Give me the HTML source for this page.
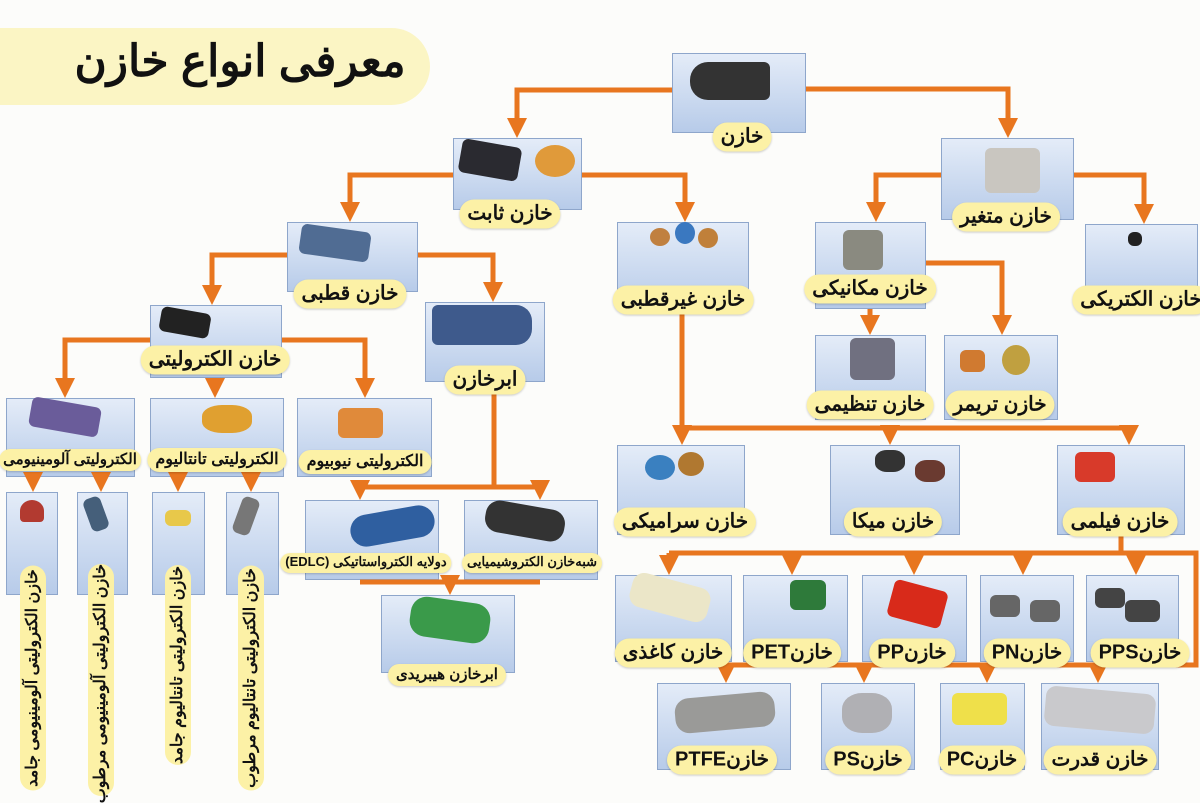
<!DOCTYPE html>
<html><head><meta charset="utf-8">
<style>
body{margin:0;width:1200px;height:800px;background:#fcfcfa;position:relative;overflow:hidden;font-family:"Liberation Sans","Noto Sans CJK SC",sans-serif}
.b{position:absolute;background:linear-gradient(#e4ecf8,#b7cbe9);border:1px solid #8ea6cb;box-sizing:border-box}
.l{position:absolute;transform:translate(-50%,-50%);background:#fcf1a6;border-radius:16px;padding:1px 8px 3px;font-weight:bold;font-size:20px;white-space:nowrap;direction:rtl;color:#111;box-shadow:0 1px 2px rgba(0,0,0,.2)}
.v{position:absolute;background:#fcf1a6;border-radius:14px;height:26px;line-height:26px;font-weight:bold;font-size:16px;text-align:center;white-space:nowrap;direction:rtl;color:#111;transform:translate(-50%,-50%) rotate(-90deg)}
.c{position:absolute;border-radius:6px}
svg{position:absolute;left:0;top:0}
</style></head><body>
<div style="position:absolute;left:0;top:28px;width:430px;height:77px;background:#fbf5c4;border-radius:0 40px 40px 0"></div>
<div style="position:absolute;left:60px;top:36px;width:360px;text-align:center;font-size:44px;font-weight:bold;direction:rtl;color:#111">معرفی انواع خازن</div>

<div class="b" style="left:672px;top:53px;width:134px;height:80px"></div>
<div class="b" style="left:453px;top:138px;width:129px;height:72px"></div>
<div class="b" style="left:941px;top:138px;width:133px;height:82px"></div>
<div class="b" style="left:287px;top:222px;width:131px;height:70px"></div>
<div class="b" style="left:617px;top:222px;width:132px;height:88px"></div>
<div class="b" style="left:815px;top:222px;width:111px;height:87px"></div>
<div class="b" style="left:1085px;top:224px;width:113px;height:79px"></div>
<div class="b" style="left:150px;top:305px;width:132px;height:73px"></div>
<div class="b" style="left:425px;top:302px;width:120px;height:80px"></div>
<div class="b" style="left:815px;top:335px;width:111px;height:85px"></div>
<div class="b" style="left:944px;top:335px;width:114px;height:85px"></div>
<div class="b" style="left:6px;top:398px;width:129px;height:79px"></div>
<div class="b" style="left:150px;top:398px;width:134px;height:79px"></div>
<div class="b" style="left:297px;top:398px;width:135px;height:79px"></div>
<div class="b" style="left:6px;top:492px;width:52px;height:103px"></div>
<div class="b" style="left:77px;top:492px;width:51px;height:103px"></div>
<div class="b" style="left:152px;top:492px;width:53px;height:103px"></div>
<div class="b" style="left:226px;top:492px;width:53px;height:103px"></div>
<div class="b" style="left:305px;top:500px;width:134px;height:80px"></div>
<div class="b" style="left:464px;top:500px;width:134px;height:80px"></div>
<div class="b" style="left:381px;top:595px;width:134px;height:78px"></div>
<div class="b" style="left:617px;top:445px;width:128px;height:90px"></div>
<div class="b" style="left:830px;top:445px;width:130px;height:90px"></div>
<div class="b" style="left:1057px;top:445px;width:128px;height:90px"></div>
<div class="b" style="left:615px;top:575px;width:117px;height:87px"></div>
<div class="b" style="left:743px;top:575px;width:105px;height:87px"></div>
<div class="b" style="left:862px;top:575px;width:105px;height:87px"></div>
<div class="b" style="left:980px;top:575px;width:94px;height:87px"></div>
<div class="b" style="left:1086px;top:575px;width:93px;height:87px"></div>
<div class="b" style="left:657px;top:683px;width:134px;height:87px"></div>
<div class="b" style="left:821px;top:683px;width:94px;height:87px"></div>
<div class="b" style="left:940px;top:683px;width:85px;height:87px"></div>
<div class="b" style="left:1041px;top:683px;width:118px;height:87px"></div>

<div class="c" style="left:690px;top:62px;width:80px;height:38px;background:#333;border-radius:18px 6px 6px 18px"></div>
<div class="c" style="left:460px;top:143px;width:60px;height:34px;background:#2a2a30;transform:rotate(10deg)"></div>
<div class="c" style="left:535px;top:145px;width:40px;height:32px;background:#e09a3a;border-radius:50%"></div>
<div class="c" style="left:985px;top:148px;width:55px;height:45px;background:#c9c6c0"></div>
<div class="c" style="left:300px;top:228px;width:70px;height:30px;background:#506c93;transform:rotate(8deg)"></div>
<div class="c" style="left:650px;top:228px;width:20px;height:18px;background:#c08040;border-radius:50%"></div>
<div class="c" style="left:675px;top:222px;width:20px;height:22px;background:#3a78c0;border-radius:50%"></div>
<div class="c" style="left:698px;top:228px;width:20px;height:20px;background:#c0803a;border-radius:50%"></div>
<div class="c" style="left:843px;top:230px;width:40px;height:40px;background:#8a8a80"></div>
<div class="c" style="left:1128px;top:232px;width:14px;height:14px;background:#222"></div>
<div class="c" style="left:160px;top:310px;width:50px;height:25px;background:#222;transform:rotate(10deg)"></div>
<div class="c" style="left:432px;top:305px;width:100px;height:40px;background:#3e5a8c;border-radius:6px 16px 16px 6px"></div>
<div class="c" style="left:850px;top:338px;width:45px;height:42px;background:#707080"></div>
<div class="c" style="left:960px;top:350px;width:25px;height:22px;background:#d07a30"></div>
<div class="c" style="left:1002px;top:345px;width:28px;height:30px;background:#c0a040;border-radius:50%"></div>
<div class="c" style="left:30px;top:402px;width:70px;height:30px;background:#6a5c9a;transform:rotate(10deg)"></div>
<div class="c" style="left:202px;top:405px;width:50px;height:28px;background:#e0a030;border-radius:40%"></div>
<div class="c" style="left:338px;top:408px;width:45px;height:30px;background:#e08a3a"></div>
<div class="c" style="left:20px;top:500px;width:24px;height:22px;background:#b23a30;border-radius:50% 50% 4px 4px"></div>
<div class="c" style="left:87px;top:497px;width:18px;height:34px;background:#455f7a;transform:rotate(-20deg)"></div>
<div class="c" style="left:165px;top:510px;width:26px;height:16px;background:#e8c84a"></div>
<div class="c" style="left:237px;top:497px;width:18px;height:38px;background:#777;transform:rotate(20deg)"></div>
<div class="c" style="left:350px;top:510px;width:85px;height:32px;background:#2f5fa0;border-radius:16px;transform:rotate(-10deg)"></div>
<div class="c" style="left:485px;top:505px;width:80px;height:32px;background:#333;border-radius:14px;transform:rotate(10deg)"></div>
<div class="c" style="left:410px;top:600px;width:80px;height:40px;background:#3a9a4a;border-radius:16px;transform:rotate(8deg)"></div>
<div class="c" style="left:645px;top:455px;width:30px;height:25px;background:#3a80c0;border-radius:50%"></div>
<div class="c" style="left:678px;top:452px;width:26px;height:24px;background:#b07830;border-radius:50%"></div>
<div class="c" style="left:875px;top:450px;width:30px;height:22px;background:#333;border-radius:40%"></div>
<div class="c" style="left:915px;top:460px;width:30px;height:22px;background:#6a3a30;border-radius:40%"></div>
<div class="c" style="left:1075px;top:452px;width:40px;height:30px;background:#d83a2a"></div>
<div class="c" style="left:630px;top:580px;width:80px;height:35px;background:#ebe6c8;border-radius:12px;transform:rotate(15deg)"></div>
<div class="c" style="left:790px;top:580px;width:36px;height:30px;background:#2e7a3a"></div>
<div class="c" style="left:890px;top:585px;width:55px;height:38px;background:#d82a1a;transform:rotate(15deg)"></div>
<div class="c" style="left:990px;top:595px;width:30px;height:22px;background:#666"></div>
<div class="c" style="left:1030px;top:600px;width:30px;height:22px;background:#666"></div>
<div class="c" style="left:1095px;top:588px;width:30px;height:20px;background:#444"></div>
<div class="c" style="left:1125px;top:600px;width:35px;height:22px;background:#444"></div>
<div class="c" style="left:675px;top:695px;width:100px;height:35px;background:#9a9a98;border-radius:14px;transform:rotate(-5deg)"></div>
<div class="c" style="left:842px;top:693px;width:50px;height:40px;background:#b0b0b4;border-radius:40%"></div>
<div class="c" style="left:952px;top:693px;width:55px;height:32px;background:#efe04a"></div>
<div class="c" style="left:1045px;top:690px;width:110px;height:40px;background:#c9c9cc;border-radius:10px;transform:rotate(5deg)"></div>

<svg width="1200" height="800" fill="none">
<defs><marker id="a" markerWidth="4" markerHeight="4" refX="2" refY="2" orient="auto" markerUnits="strokeWidth"><path d="M0,0 L4,2 L0,4z" fill="#e8761f"/></marker></defs>
<g stroke="#e8761f" stroke-width="5" marker-end="url(#a)">
<path d="M672 90 H517 V128"/>
<path d="M806 89 H1008 V128"/>
<path d="M453 175 H350 V212"/>
<path d="M582 175 H685 V212"/>
<path d="M941 175 H876 V212"/>
<path d="M1074 175 H1144 V214"/>
<path d="M287 255 H212 V295"/>
<path d="M418 255 H493 V292"/>
<path d="M926 263 H1002 V325"/>
<path d="M870 309 V325"/>
<path d="M150 340 H65 V388"/>
<path d="M215 378 V388"/>
<path d="M282 340 H365 V388"/>
<path d="M682 428 V435"/>
<path d="M890 428 V435"/>
<path d="M682 310 V428 H1129 V435"/>
<path d="M494 382 V487 H360 V490"/>
<path d="M494 487 H540 V490"/>
<path d="M450 582 V585"/>
<path d="M33 477 V482"/><path d="M101 477 V482"/><path d="M178 477 V482"/><path d="M251 477 V482"/>
<path d="M669 553 V565"/><path d="M792 553 V565"/><path d="M914 553 V565"/><path d="M1023 553 V565"/><path d="M1136 553 V565"/>
<path d="M726 665 V673"/><path d="M864 665 V673"/><path d="M987 665 V673"/><path d="M1098 665 V673"/>
</g>
<g stroke="#e8761f" stroke-width="5">
<path d="M360 582 H540"/>
<path d="M1121 535 V553 M669 553 H1196 V665 H726"/>
</g>
</svg>

<div class="l" style="left:742px;top:137px">خازن</div>
<div class="l" style="left:510px;top:214px">خازن ثابت</div>
<div class="l" style="left:1006px;top:217px">خازن متغیر</div>
<div class="l" style="left:350px;top:294px">خازن قطبی</div>
<div class="l" style="left:683px;top:300px">خازن غیرقطبی</div>
<div class="l" style="left:870px;top:289px">خازن مکانیکی</div>
<div class="l" style="left:1141px;top:300px">خازن الکتریکی</div>
<div class="l" style="left:215px;top:360px">خازن الکترولیتی</div>
<div class="l" style="left:485px;top:380px">ابرخازن</div>
<div class="l" style="left:870px;top:405px">خازن تنظیمی</div>
<div class="l" style="left:1000px;top:405px">خازن تریمر</div>
<div class="l" style="left:70px;top:460px;font-size:15px;padding:1px 4px 3px">الکترولیتی آلومینیومی</div>
<div class="l" style="left:217px;top:460px;font-size:16px">الکترولیتی تانتالیوم</div>
<div class="l" style="left:365px;top:462px;font-size:16px">الکترولیتی نیوبیوم</div>
<div class="l" style="left:366px;top:563px;font-size:13px;padding:1px 5px 3px">دولایه الکترواستاتیکی (EDLC)</div>
<div class="l" style="left:532px;top:563px;font-size:13px;padding:1px 5px 3px">شبه‌خازن الکتروشیمیایی</div>
<div class="l" style="left:447px;top:675px;font-size:15px">ابرخازن هیبریدی</div>
<div class="l" style="left:685px;top:522px">خازن سرامیکی</div>
<div class="l" style="left:893px;top:522px">خازن میکا</div>
<div class="l" style="left:1120px;top:522px">خازن فیلمی</div>
<div class="l" style="left:673px;top:653px">خازن کاغذی</div>
<div class="l" style="left:792px;top:653px">خازنPET</div>
<div class="l" style="left:912px;top:653px">خازنPP</div>
<div class="l" style="left:1027px;top:653px">خازنPN</div>
<div class="l" style="left:1140px;top:653px">خازنPPS</div>
<div class="l" style="left:722px;top:760px">خازنPTFE</div>
<div class="l" style="left:868px;top:760px">خازنPS</div>
<div class="l" style="left:982px;top:760px">خازنPC</div>
<div class="l" style="left:1100px;top:760px">خازن قدرت</div>

<div class="v" style="left:33px;top:678px;width:225px">خازن الکترولیتی آلومینیومی جامد</div>
<div class="v" style="left:101px;top:680px;width:232px">خازن الکترولیتی آلومینیومی مرطوب</div>
<div class="v" style="left:178px;top:665px;width:200px">خازن الکترولیتی تانتالیوم جامد</div>
<div class="v" style="left:251px;top:678px;width:225px">خازن الکترولیتی تانتالیوم مرطوب</div>
</body></html>
